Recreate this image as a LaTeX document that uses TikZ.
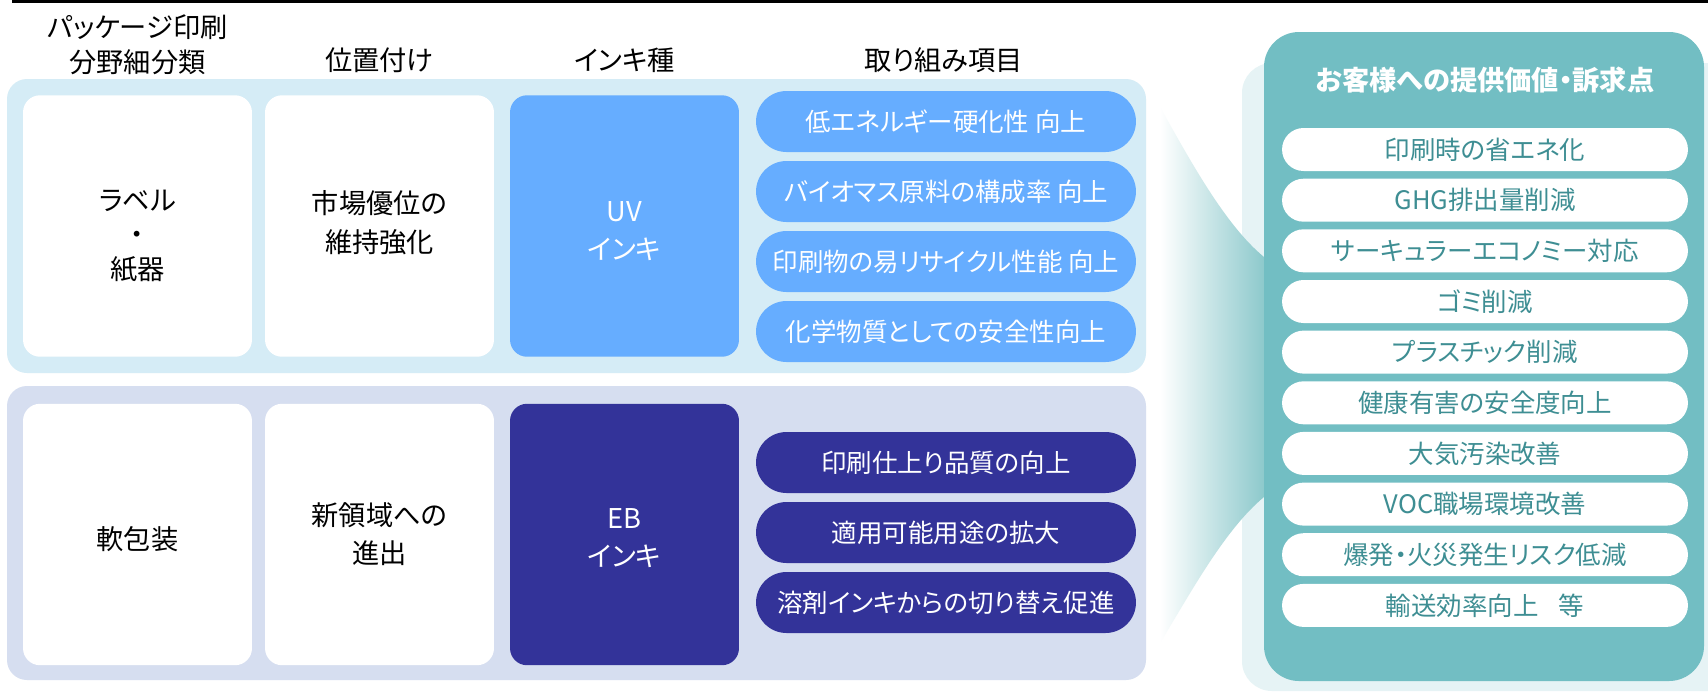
\documentclass[tikz,border=0pt]{standalone}
\usepackage{fontspec}
\setmainfont{Noto Sans CJK JP}[RawFeature={+palt}]
\usetikzlibrary{shapes.misc}
\definecolor{topbg}{HTML}{D5ECF6}
\definecolor{botbg}{HTML}{D6DEF0}
\definecolor{uvblue}{HTML}{66ADFF}
\definecolor{ebnavy}{HTML}{333399}
\definecolor{valpanel}{HTML}{72BEC3}
\definecolor{valshadow}{HTML}{E6F3F5}
\definecolor{valtext}{HTML}{3E8E93}
\definecolor{wedgeteal}{HTML}{8DC9CC}
\begin{document}
\begin{tikzpicture}[x=0.02cm,y=-0.02cm,
  hdr/.style={align=center,text=black,inner sep=0pt,font=\fontsize{15.5}{20}\selectfont},
  card/.style={fill=white,rounded corners=0.34cm,minimum width=4.58cm,minimum height=5.23cm,inner sep=0pt},
  cardtext/.style={align=center,inner sep=0pt,text=black,font=\fontsize{15.5}{22}\selectfont},
  inktext/.style={cardtext,text=white},
  pill/.style={rounded rectangle,minimum width=7.6cm,minimum height=1.22cm,inner sep=0pt,text=white,font=\fontsize{14.5}{18}\selectfont},
  vpill/.style={rounded rectangle,fill=white,minimum width=8.12cm,minimum height=0.86cm,inner sep=0pt,text=valtext,font=\fontsize{14.5}{18}\selectfont}
]
\useasboundingbox (0,0) rectangle (1708,691);
\fill[white] (0,0) rectangle (1708,691);
% top rule
\fill[black] (12,0) rectangle (1708,3);

% headers
\node[hdr] (h1) at (137.5,44.5) {パッケージ印刷\\分野細分類};
\node[hdr] (h2) at (379.5,60) {位置付け};
\node[hdr] (h3) at (624.5,60) {インキ種};
\node[hdr] (h4) at (944,60) {取り組み項目};

% panels
\fill[topbg,rounded corners=0.4cm] (7,79) rectangle (1146,373);
\fill[botbg,rounded corners=0.4cm] (7,386) rectangle (1146,680);

% top row
\node[card] (label) at (137.5,226) {};
\node[cardtext,font=\fontsize{15.5}{19.5}\selectfont] (labelt) at (137.5,236) {ラベル\\・\\紙器};
\node[card] (pos1) at (379.5,226) {};
\node[cardtext] (pos1t) at (379.5,223) {市場優位の\\維持強化};
\node[card,fill=uvblue] (uv) at (624.5,226) {};
\node[inktext] (uvt) at (624.5,231) {UV\\インキ};
\node[pill,fill=uvblue] (u1) at (946,121.5) {低エネルギー硬化性 向上};
\node[pill,fill=uvblue] (u2) at (946,191.5) {バイオマス原料の構成率 向上};
\node[pill,fill=uvblue] (u3) at (946,261.5) {印刷物の易リサイクル性能 向上};
\node[pill,fill=uvblue] (u4) at (946,331.5) {化学物質としての安全性向上};

% bottom row
\node[card] (soft) at (137.5,534.5) {};
\node[cardtext] (softt) at (137.5,539) {軟包装};
\node[card] (pos2) at (379.5,534.5) {};
\node[cardtext] (pos2t) at (379.5,534) {新領域への\\進出};
\node[card,fill=ebnavy] (eb) at (624.5,534.5) {};
\node[inktext] (ebt) at (624.5,538) {EB\\インキ};
\node[pill,fill=ebnavy] (e1) at (946,462.5) {印刷仕上り品質の向上};
\node[pill,fill=ebnavy] (e2) at (946,532.5) {適用可能用途の拡大};
\node[pill,fill=ebnavy] (e3) at (946,602.5) {溶剤インキからの切り替え促進};

% right side: shadow panel, wedge, value panel
\fill[valshadow,rounded corners=0.6cm] (1242,63) rectangle (1760,691);
\shade[left color=white,right color=wedgeteal]
  (1160,107) .. controls (1190,160) and (1225,225) .. (1264,257)
  -- (1264,497) .. controls (1225,529) and (1190,594) .. (1160,643) -- cycle;
\fill[valpanel,rounded corners=0.7cm] (1264,32) rectangle (1704,681);

\node[text=white,font=\fontsize{15.5}{18}\selectfont\bfseries] (vt) at (1485,80) {お客様への提供価値・訴求点};
\node[vpill] (v1) at (1485,149.5) {印刷時の省エネ化};
\node[vpill] (v2) at (1485,200.2) {GHG排出量削減};
\node[vpill] (v3) at (1485,250.8) {サーキュラーエコノミー対応};
\node[vpill] (v4) at (1485,301.5) {ゴミ削減};
\node[vpill] (v5) at (1485,352.1) {プラスチック削減};
\node[vpill] (v6) at (1485,402.8) {健康有害の安全度向上};
\node[vpill] (v7) at (1485,453.4) {大気汚染改善};
\node[vpill] (v8) at (1485,504.1) {VOC職場環境改善};
\node[vpill] (v9) at (1485,554.7) {爆発・火災発生リスク低減};
\node[vpill] (v10) at (1485,605.4) {輸送効率向上\hspace{0.8em}等};
\end{tikzpicture}
\end{document}
